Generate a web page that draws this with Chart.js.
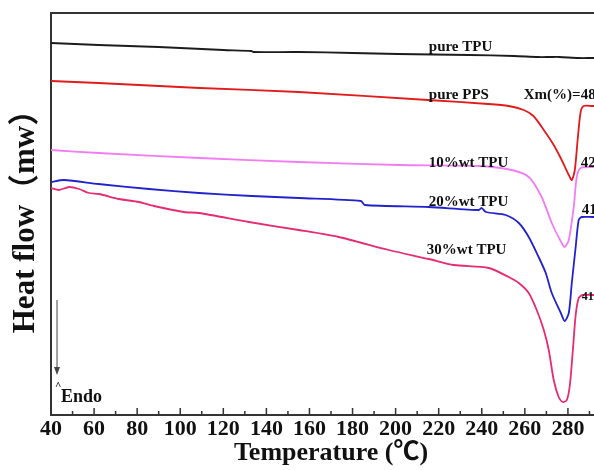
<!DOCTYPE html>
<html>
<head>
<meta charset="utf-8">
<script src="https://cdn.jsdelivr.net/npm/chart.js@4/dist/chart.umd.min.js"></script>
<style>
	body { margin: 0; overflow: hidden; background: #fff; }
	#wrap { width: 630px; height: 470px; }
</style>
</head>
<body>
<div id="wrap"><canvas id="dsc-chart" width="630" height="470"></canvas></div>
<script>
// temperature (°C) and heat flow (arbitrary mW offset)
var pureTpuTemp = [40, 62, 90, 120, 133, 134, 155, 180, 201, 234, 255, 266, 272, 276, 285, 291, 300];
var pureTpuFlow = [37.2, 37.0, 36.8, 36.5, 36.4, 36.3, 36.3, 36.2, 36.1, 36.0, 35.9, 35.8, 35.8, 35.8, 35.7, 35.7, 35.7];

var purePpsTemp = [40, 62, 109, 155, 215, 243, 252.5, 259.5, 264, 268.8, 273.4, 277.1, 280.4, 281.8, 283.2, 284.5, 285.9, 287.3, 291.5, 300];
var purePpsFlow = [33.4, 33.2, 32.7, 32.3, 31.5, 31.1, 30.9, 30.5, 29.9, 28.5, 27.0, 25.5, 24.0, 23.5, 24.5, 27.5, 30.3, 30.9, 30.9, 30.9];

var tpu10Temp = [40, 62, 109, 155, 201.5, 238.6, 253.9, 261.8, 267.8, 272.5, 277.1, 278.5, 280.4, 282.7, 284.1, 285.9, 291.5, 300];
var tpu10Flow = [26.5, 26.2, 25.7, 25.3, 25.0, 24.9, 24.5, 23.8, 21.8, 19.2, 17.2, 16.8, 17.5, 20.8, 23.8, 24.7, 24.8, 24.8];

var tpu20Temp = [40, 46, 62, 85.5, 108.7, 133.3, 155, 183.9, 185.7, 215.4, 238.6, 240, 241.9, 251.1, 257.2, 261.8, 266.4, 269.7, 272.5, 276.7, 278.5, 280.4, 281.8, 283.6, 285, 286.4, 291.5, 300];
var tpu20Flow = [23.3, 23.5, 23.1, 22.6, 22.2, 21.9, 21.7, 21.4, 21.0, 20.8, 20.5, 20.7, 20.3, 20.0, 19.2, 17.8, 15.8, 14.2, 12.2, 10.2, 9.4, 10.2, 13.2, 16.8, 19.5, 19.8, 19.8, 19.8];

var tpu30Temp = [40, 43.7, 48.4, 53, 57.6, 62.3, 71.6, 80.8, 87.8, 101.7, 108.7, 131.9, 155, 173.6, 196.8, 215.4, 227, 243.2, 252.5, 257.2, 261.8, 265.5, 268.8, 271.1, 273.4, 275.7, 277.6, 279.5, 280.9, 282.3, 283.6, 285, 286.8, 291.5, 300];
var tpu30Flow = [22.7, 22.5, 22.8, 22.6, 22.2, 22.1, 21.6, 21.3, 20.9, 20.3, 20.2, 19.3, 18.5, 17.8, 16.5, 15.6, 15.0, 14.7, 13.8, 13.2, 12.2, 10.5, 8.5, 6.5, 3.5, 1.8, 1.3, 1.5, 3.0, 6.5, 10.0, 11.7, 12.0, 12.0, 12.0];

var seriesNames = ["pure TPU", "pure PPS", "10%wt TPU", "20%wt TPU", "30%wt TPU"];
var seriesColors = ["#1c1c1c", "#e01b1b", "#f27df2", "#2222cc", "#e62b72"];

var serifFont = "'Liberation Serif', 'Times New Roman', 'Noto Sans CJK SC', serif";

// text placed on the plot, in data coordinates
var notes = [
	{text: "pure TPU", t: 215.4, v: 36.8, size: 15},
	{text: "pure PPS", t: 215.4, v: 32.0, size: 15},
	{text: "Xm(%)=48", t: 259.5, v: 32.0, size: 15},
	{text: "10%wt TPU", t: 215.4, v: 25.2, size: 15},
	{text: "20%wt TPU", t: 215.4, v: 21.3, size: 15},
	{text: "30%wt TPU", t: 214.5, v: 16.5, size: 15},
	{text: "42", t: 285.9, v: 25.2, size: 15},
	{text: "41", t: 286.4, v: 20.5, size: 15},
	{text: "41", t: 286.4, v: 11.8, size: 12},
	{text: "Endo", t: 44.6, v: 1.8, size: 18},
	{text: "^", t: 41.8, v: 2.9, size: 11}
];

function toPoints(temps, flows) {
	var pts = [];
	for (var i = 0; i < temps.length; i++) {
		pts.push({x: temps[i], y: flows[i]});
	}
	return pts;
}

var allSeries = [
	toPoints(pureTpuTemp, pureTpuFlow),
	toPoints(purePpsTemp, purePpsFlow),
	toPoints(tpu10Temp, tpu10Flow),
	toPoints(tpu20Temp, tpu20Flow),
	toPoints(tpu30Temp, tpu30Flow)
];

var datasets = [];
for (var i = 0; i < allSeries.length; i++) {
	datasets.push({
		label: seriesNames[i],
		data: allSeries[i],
		borderColor: seriesColors[i],
		borderWidth: 1.8,
		pointRadius: 0,
		tension: 0.25,
		fill: false
	});
}

var framePlugin = {
	id: "frame",
	afterDraw: function(chart) {
		var ctx = chart.ctx;
		var area = chart.chartArea;
		var xs = chart.scales.x;
		var ys = chart.scales.y;
		ctx.save();
		ctx.strokeStyle = "#333";
		ctx.lineWidth = 2;
		ctx.beginPath();
		ctx.moveTo(area.left - 1, area.top);
		ctx.lineTo(area.right, area.top);
		ctx.lineTo(area.right, area.bottom);
		ctx.stroke();

		// inward tick marks
		ctx.lineWidth = 1.5;
		for (var t = 40; t <= 300; t += 10) {
			var px = xs.getPixelForValue(t);
			var len = t % 20 === 0 ? 7 : 4;
			ctx.beginPath();
			ctx.moveTo(px, area.bottom);
			ctx.lineTo(px, area.bottom - len);
			ctx.stroke();
		}

		// endo arrow
		var ax = xs.getPixelForValue(42.8);
		var ay1 = ys.getPixelForValue(11.5);
		var ay2 = ys.getPixelForValue(4.0);
		ctx.strokeStyle = "#444";
		ctx.fillStyle = "#444";
		ctx.lineWidth = 1;
		ctx.beginPath();
		ctx.moveTo(ax, ay1);
		ctx.lineTo(ax, ay2 - 6);
		ctx.stroke();
		ctx.beginPath();
		ctx.moveTo(ax - 3, ay2 - 8);
		ctx.lineTo(ax + 3, ay2 - 8);
		ctx.lineTo(ax, ay2);
		ctx.closePath();
		ctx.fill();

		// labels
		ctx.fillStyle = "#111";
		ctx.textAlign = "left";
		ctx.textBaseline = "middle";
		notes.forEach(function(n) {
			ctx.font = "bold " + n.size + "px " + serifFont;
			ctx.fillText(n.text, xs.getPixelForValue(n.t), ys.getPixelForValue(n.v));
		});
		ctx.restore();
	}
};

new Chart(document.getElementById("dsc-chart"), {
	type: "line",
	data: {datasets: datasets},
	options: {
		responsive: false,
		animation: false,
		devicePixelRatio: 1,
		layout: {padding: {left: 0, top: 13, right: 19, bottom: 0}},
		plugins: {legend: {display: false}, tooltip: {enabled: false}},
		scales: {
			x: {
				type: "linear",
				min: 40,
				max: 300,
				grid: {display: false, drawTicks: false},
				border: {display: true, color: "#333", width: 2},
				ticks: {
					stepSize: 10,
					autoSkip: false,
					maxRotation: 0,
					padding: 1,
					color: "#111",
					font: {family: serifFont, size: 22, weight: "bold", lineHeight: 1.2},
					callback: function(value) { return value % 20 === 0 ? String(value) : ""; }
				},
				title: {
					display: true,
					text: "Temperature (℃)",
					color: "#111",
					padding: {top: 0, bottom: 1},
					font: {family: serifFont, size: 26, weight: "bold", lineHeight: 1.2}
				},
				afterFit: function(scale) { scale.height = 55; }
			},
			y: {
				min: 0,
				max: 40.2,
				grid: {display: false, drawTicks: false},
				border: {display: true, color: "#333", width: 2},
				ticks: {display: false},
				title: {
					display: true,
					text: "Heat flow（mw）",
					color: "#111",
					padding: {top: 7, bottom: 0},
					font: {family: serifFont, size: 31, weight: "bold", lineHeight: 1.2}
				},
				afterFit: function(scale) { scale.width = 51; }
			}
		}
	},
	plugins: [framePlugin]
});
</script>
</body>
</html>
